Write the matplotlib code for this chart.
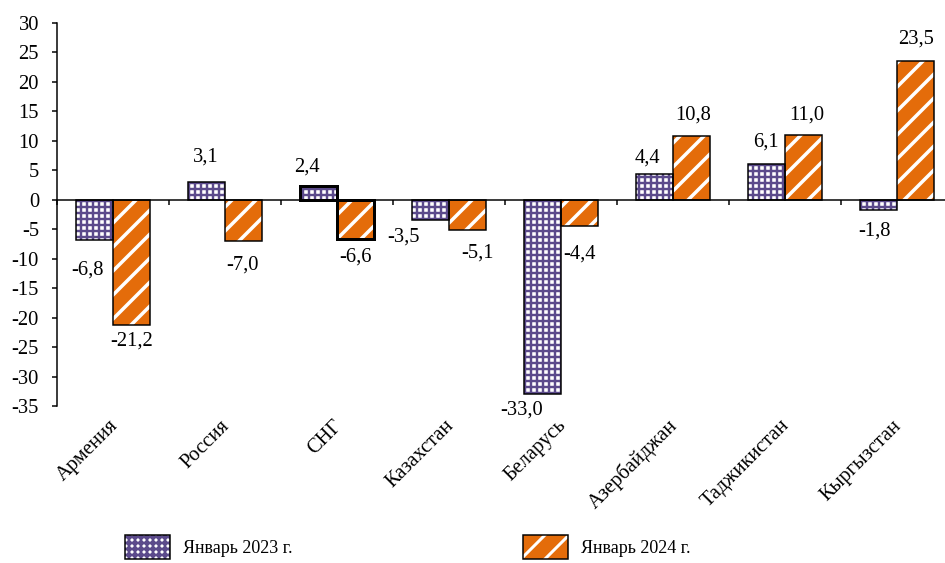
import matplotlib
matplotlib.use("Agg")
import numpy as np
import matplotlib.pyplot as plt
from matplotlib.patches import Patch
from matplotlib.transforms import blended_transform_factory

# Data
countries = ["Армения", "Россия", "СНГ", "Казахстан", "Беларусь",
             "Азербайджан", "Таджикистан", "Кыргызстан"]
jan_2023 = [-6.8, 3.1, 2.4, -3.5, -33.0, 4.4, 6.1, -1.8]
jan_2024 = [-21.2, -7.0, -6.6, -5.1, -4.4, 10.8, 11.0, 23.5]
series_names = ["Январь 2023 г.", "Январь 2024 г."]
y_ticks = list(range(-35, 31, 5))

# label nudges in pixels: (right, down) from the end of each bar
offsets_2023 = [(-7, 30), (-1, -24), (-11, -19), (-27, 17), (-21, 16), (-7, -16), (0, -22), (-4, 21)]
offsets_2024 = [(0, 16), (-1, 24), (0, 18), (10, 23), (0, 28), (1, -21), (3, -20), (0, -22)]

purple = "#5B4A8B"
orange = "#E46C0A"

plt.rcParams["font.family"] = ["Liberation Serif", "DejaVu Serif"]
plt.rcParams["font.size"] = 20.5
plt.rcParams["axes.unicode_minus"] = False
plt.rcParams["hatch.linewidth"] = 3

DPI = 72
fig = plt.figure(figsize=(945 / DPI, 563 / DPI), dpi=DPI)
ax = fig.add_axes([57 / 945, 1 - 406 / 563, 896 / 945, 383 / 563])

x = np.arange(len(countries))
width = 1 / 3
edge_w = [3 if c == "СНГ" else 1.5 for c in countries]
hatch_lw = {"++": 2.4, "/": 3.5}


def set_hatch_lw(patch, hatch):
    if hasattr(patch, "set_hatch_linewidth"):
        patch.set_hatch_linewidth(hatch_lw[hatch])


def hatched_bars(xpos, values, face, hatch_col, hatch):
    bars = ax.bar(xpos, values, width, color=face, edgecolor=hatch_col,
                  hatch=hatch, linewidth=0, zorder=2)
    for b in bars:
        set_hatch_lw(b, hatch)
    # black outline on top
    ax.bar(xpos, values, width, fill=False, edgecolor="black",
           linewidth=edge_w, zorder=3)
    return bars


hatched_bars(x - width / 2, jan_2023, "white", purple, "++")
hatched_bars(x + width / 2, jan_2024, orange, "white", "/")


def fmt(v):
    return f"{v:.1f}".replace(".", ",")


for xs, vals, offs in [(x - width / 2, jan_2023, offsets_2023),
                       (x + width / 2, jan_2024, offsets_2024)]:
    for xi, v, (dx, dy) in zip(xs, vals, offs):
        ax.annotate(fmt(v), xy=(xi, v), xytext=(dx, -dy), textcoords="offset points",
                    ha="center", va="center", zorder=4)

# axes styling
ax.set_xlim(-0.5, len(countries) - 0.5)
ax.set_ylim(-35, 30)
ax.set_yticks(y_ticks)
ax.set_yticklabels([str(t) for t in y_ticks])
ax.spines["top"].set_visible(False)
ax.spines["right"].set_visible(False)
ax.spines["left"].set_linewidth(1.5)
ax.spines["bottom"].set_linewidth(1.5)
ax.spines["bottom"].set_position(("data", 0))
ax.spines["bottom"].set_zorder(5)
ax.set_xticks(np.arange(-0.5, len(countries), 1))
ax.set_xticklabels([])
ax.tick_params(axis="x", direction="out", length=5, width=1.5)
ax.tick_params(axis="y", direction="out", length=5, width=1.5, pad=13)

trans = blended_transform_factory(ax.transData, ax.transAxes)
for xi, name in zip(x, countries):
    ax.annotate(name, xy=(xi, 0), xycoords=trans, xytext=(2, -17),
                textcoords="offset points", rotation=45, ha="right", va="center",
                rotation_mode="anchor")

# legend
handles = []
for face, hcol, hatch in [("white", purple, "++"), (orange, "white", "/")]:
    fill = Patch(facecolor=face, edgecolor=hcol, hatch=hatch, linewidth=0)
    set_hatch_lw(fill, hatch)
    handles.append((fill, Patch(facecolor="none", edgecolor="black", linewidth=1.5)))

fig.legend(handles, series_names, loc="center left", bbox_to_anchor=(125 / 945, 1 - 547 / 563),
           ncol=2, frameon=False, borderpad=0, borderaxespad=0, fontsize=18,
           handlelength=2.5, handleheight=1.67, handletextpad=0.72, columnspacing=12.8)

fig.savefig("out.png", dpi=DPI)
